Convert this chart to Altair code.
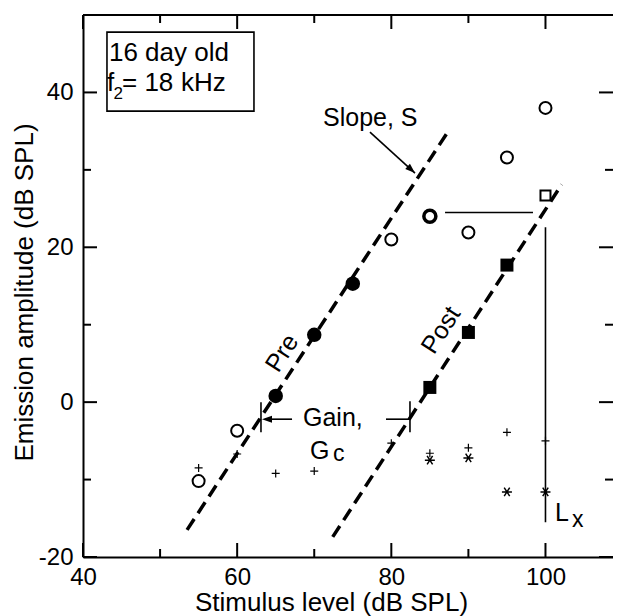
import altair as alt
import pandas as pd

# ---------------- data ----------------
pre_x = [65, 70, 75]
pre_y = [0.8, 8.7, 15.3]

open_x = [55, 60, 80, 90, 95, 100]
open_y = [-10.2, -3.7, 21.0, 21.9, 31.6, 38.0]

bold_x = [85]
bold_y = [24.0]

post_x = [85, 90, 95]
post_y = [1.9, 9.0, 17.7]

sq_x = [100]
sq_y = [26.7]

plus_x = [55, 60, 65, 70, 80, 85, 90, 95, 100]
plus_y = [-8.5, -6.7, -9.2, -8.9, -5.3, -6.6, -5.9, -3.9, -5.0]

ast_x = [85, 90, 95, 100]
ast_y = [-7.5, -7.2, -11.6, -11.6]

fit_name = ["pre", "pre", "post", "post"]
fit_x = [53.5, 87.2, 72.4, 102.1]
fit_y = [-16.5, 34.7, -17.4, 28.1]

x_major = [40, 60, 80, 100]
x_minor = [50, 70, 90]
y_major = [-20, 0, 20, 40]
y_minor = [-10, 10, 30]

# ---------------- layout ----------------
W, H = 530, 542
FONT = "Liberation Sans"
xs = alt.Scale(domain=[40, 108.76], nice=False, zero=False)
ys = alt.Scale(domain=[-20, 50], nice=False, zero=False)
xaxis = alt.Axis(values=x_major, title="Stimulus level (dB SPL)", grid=False, ticks=False,
                 tickSize=0, labelFlush=False, labelPadding=8, titlePadding=0,
                 titleFontSize=26, titleX=248, labelExpr="'' + datum.value")
yaxis = alt.Axis(values=y_major, title="Emission amplitude (dB SPL)", grid=False, ticks=False,
                 tickSize=0, labelFlush=False, labelPadding=10, titlePadding=1,
                 titleFontSize=26, titleY=277, labelExpr="'' + datum.value")


def X(f):
    return alt.X(f + ":Q", scale=xs, axis=xaxis)


def Y(f):
    return alt.Y(f + ":Q", scale=ys, axis=yaxis)


def df(**kw):
    return pd.DataFrame(kw)


layers = []

# inward ticks
for vals, ln in [(x_major, 14), (x_minor, 8)]:
    d = df(v=vals)
    layers.append(alt.Chart(d).mark_rule(strokeWidth=2, color="black").encode(
        x=X("v"), y=alt.value(H), y2=alt.value(H - ln)))
    layers.append(alt.Chart(d).mark_rule(strokeWidth=2, color="black").encode(
        x=X("v"), y=alt.value(0), y2=alt.value(ln)))
for vals, ln in [(y_major, 14), (y_minor, 8)]:
    d = df(v=vals)
    layers.append(alt.Chart(d).mark_rule(strokeWidth=2, color="black").encode(
        y=Y("v"), x=alt.value(0), x2=alt.value(ln)))
    layers.append(alt.Chart(d).mark_rule(strokeWidth=2, color="black").encode(
        y=Y("v"), x=alt.value(W), x2=alt.value(W - ln)))

# top frame line
layers.append(alt.Chart(df(v=[0])).mark_rule(strokeWidth=2, color="black").encode(
    y=alt.value(0), x=alt.value(0), x2=alt.value(W)))

# dashed fit lines
layers.append(alt.Chart(df(x=fit_x, y=fit_y, g=fit_name)).mark_line(
    color="black", strokeWidth=3.5, strokeDash=[13, 7]).encode(
    x=X("x"), y=Y("y"), detail="g:N"))

# annotation segments
seg = df(
    x0=[77.23, 67.12, 63.09, 82.42, 79.31, 86.97, 100.0],
    y0=[34.87, -2.2, 0.0, 0.1, -2.2, 24.5, 22.6],
    x1=[83.07, 63.6, 63.09, 82.42, 82.42, 98.38, 100.0],
    y1=[29.58, -2.2, -3.9, -3.9, -2.2, 24.5, -15.5],
)
layers.append(alt.Chart(seg).mark_rule(color="black", strokeWidth=1.6).encode(
    x=X("x0"), y=Y("y0"), x2="x1:Q", y2="y1:Q"))

# arrow heads
heads = df(x=[83.07, 63.22], y=[29.58, -2.2], a=[42.3, 180])
layers.append(alt.Chart(heads).mark_point(
    shape="M0,0L-2,-0.7L-2,0.7Z", filled=True, color="black", size=100, opacity=1).encode(
    x=X("x"), y=Y("y"), angle=alt.Angle("a:Q", scale=None)))

# markers
layers.append(alt.Chart(df(x=plus_x, y=plus_y)).mark_point(
    shape="M-1,0L1,0M0,-1L0,1", color="black", strokeWidth=1.2, size=64, opacity=1).encode(
    x=X("x"), y=Y("y")))
layers.append(alt.Chart(df(x=ast_x, y=ast_y)).mark_point(
    shape="M-1,0L1,0M-0.55,-0.85L0.55,0.85M-0.55,0.85L0.55,-0.85",
    color="black", strokeWidth=1.5, size=100, opacity=1).encode(x=X("x"), y=Y("y")))
layers.append(alt.Chart(df(x=open_x, y=open_y)).mark_point(
    shape="circle", filled=False, color="black", strokeWidth=2, size=144, opacity=1).encode(
    x=X("x"), y=Y("y")))
layers.append(alt.Chart(df(x=bold_x, y=bold_y)).mark_point(
    shape="circle", filled=False, color="black", strokeWidth=3.5, size=144, opacity=1).encode(
    x=X("x"), y=Y("y")))
layers.append(alt.Chart(df(x=pre_x, y=pre_y)).mark_point(
    shape="circle", filled=True, color="black", size=210, opacity=1).encode(
    x=X("x"), y=Y("y")))
layers.append(alt.Chart(df(x=post_x, y=post_y)).mark_point(
    shape="square", filled=True, color="black", size=169, opacity=1).encode(
    x=X("x"), y=Y("y")))
layers.append(alt.Chart(df(x=sq_x, y=sq_y)).mark_point(
    shape="square", filled=False, color="black", strokeWidth=2, size=100, opacity=1).encode(
    x=X("x"), y=Y("y")))

# legend box
layers.append(alt.Chart(df(x0=[43.11], x1=[62.18], y0=[47.79], y1=[37.58])).mark_rect(
    fill="white", stroke="black", strokeWidth=1.6).encode(
    x=X("x0"), x2="x1:Q", y=Y("y0"), y2="y1:Q"))

# texts (left aligned, alphabetic baseline)
def txt(items, fs):
    d = df(x=[i[0] for i in items], y=[i[1] for i in items], t=[i[2] for i in items])
    return alt.Chart(d).mark_text(align="left", baseline="alphabetic", font=FONT,
                                  fontSize=fs, color="black").encode(
        x=X("x"), y=Y("y"), text="t:N")


layers.append(txt([(43.37, 44.04, "16 day old"), (43.11, 40.17, "f"),
                   (45.06, 40.17, "= 18"), (52.7, 40.17, "kHz")], 26))
layers.append(txt([(71.14, 35.65, "Slope, S"),
                   (68.54, -3.1, "Gain,"), (69.45, -7.36, "G"),
                   (101.24, -15.37, "L")], 25))
layers.append(txt([(43.95, 39.14, "2")], 17))
layers.append(txt([(72.43, -7.62, "c"), (103.44, -16.14, "x")], 23))

# rotated labels
rot = df(x=[65.82, 86.45], y=[6.33, 9.3], t=["Pre", "Post"])
layers.append(alt.Chart(rot).mark_text(align="center", baseline="middle", font=FONT,
                                       fontSize=25, angle=303, color="black").encode(
    x=X("x"), y=Y("y"), text="t:N"))

chart = alt.layer(*layers).properties(
    width=W, height=H,
    autosize=alt.AutoSizeParams(type="none"),
    padding={"left": 75, "top": 7, "right": 0, "bottom": 59},
).configure_view(stroke="transparent").configure_axis(
    labelFont=FONT, titleFont=FONT, labelFontSize=24,
    titleFontWeight="normal", labelColor="black", titleColor="black",
    domainColor="black", domainWidth=2,
)

chart.save("out.html", embed_options={"renderer": "svg", "actions": False})
